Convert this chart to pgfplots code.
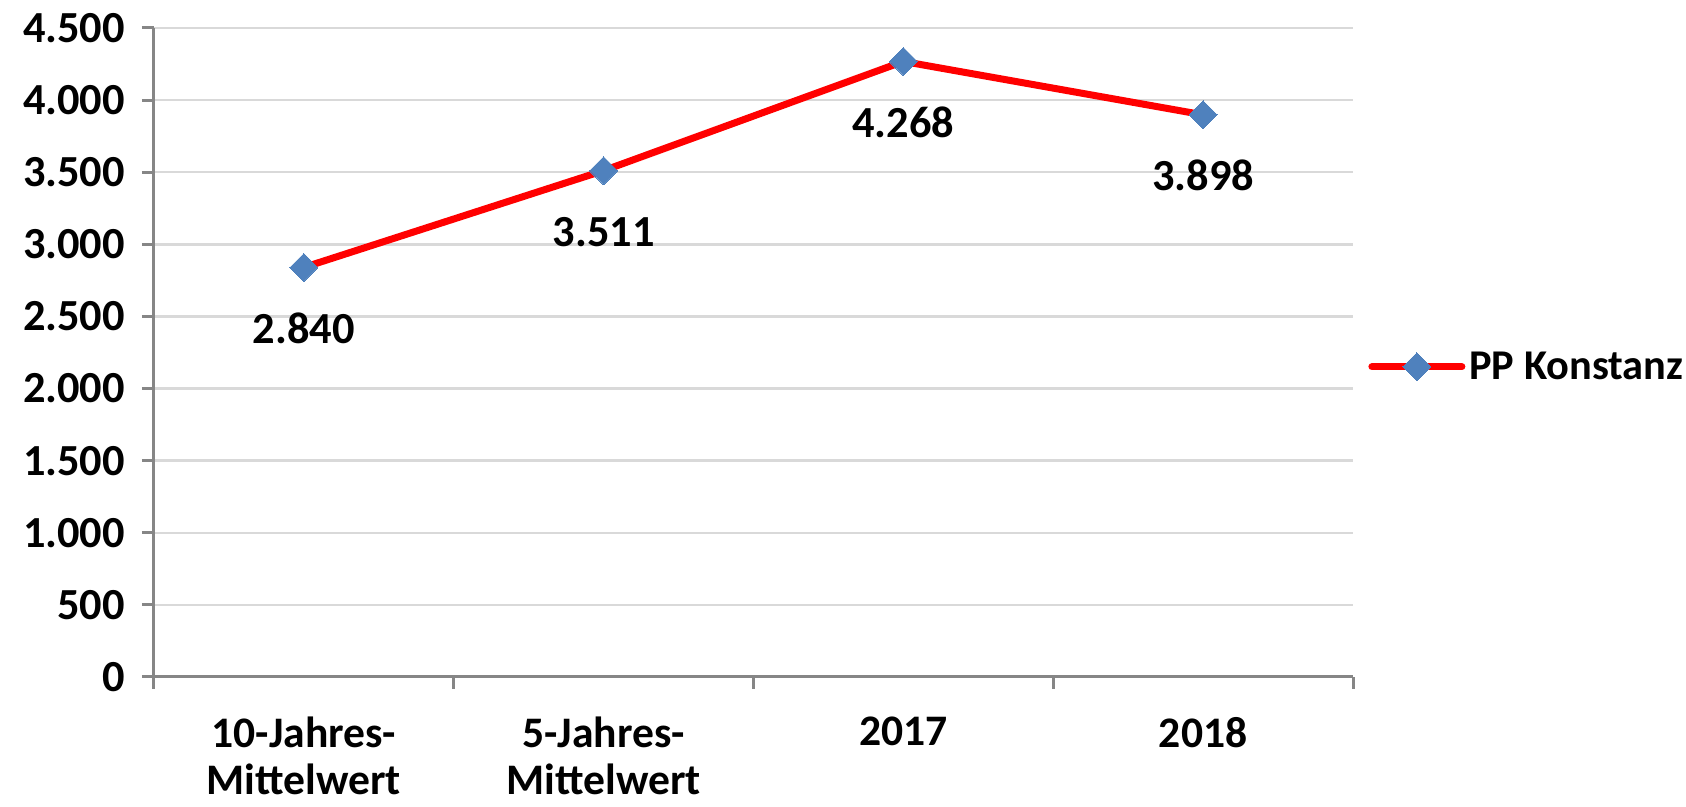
\documentclass[border=0pt]{standalone}
\usepackage{pgfplots}
\pgfplotsset{compat=1.18}
\usepackage{fontspec}
\setmainfont{Carlito}
\definecolor{axisgray}{HTML}{868686}
\definecolor{gridgray}{HTML}{D9D9D9}
\definecolor{markblue}{HTML}{4F81BD}
\newcommand{\lblfont}{\fontsize{22.2}{26}\selectfont\bfseries}
\newcommand{\xlblfont}{\fontsize{21.8}{23.5}\selectfont\bfseries}
\newcommand{\legfont}{\fontsize{21.2}{25}\selectfont\bfseries}
\begin{document}
\begin{tikzpicture}
\useasboundingbox (-77pt,-65pt) rectangle (766pt,338.5pt);
\begin{axis}[
  scale only axis,
  width=599.5pt, height=324.5pt,
  at={(0,0)}, anchor=south west,
  xmin=-0.5, xmax=3.5,
  ymin=0, ymax=4500,
  ytick={0,500,...,4500},
  xtick={-0.5,0.5,1.5,2.5,3.5},
  xticklabels={},
  extra x ticks={0,1,2,3},
  extra x tick labels={10-Jahres-\\Mittelwert,5-Jahres-\\Mittelwert,2017,2018},
  extra x tick style={major tick length=0pt, grid=none,
     xticklabel style={align=center, font=\xlblfont, anchor=north, yshift=-16.5pt}},
  axis x line*=bottom,
  axis y line*=left,
  axis line style={axisgray, line width=1.5pt},
  tick style={axisgray, line width=1.5pt},
  tick align=outside,
  major tick length=6pt,
  ymajorgrids,
  grid style={gridgray, line width=1.2pt},
  /pgf/number format/.cd, 1000 sep={.}, assume math mode=true,
  /pgfplots/.cd,
  yticklabel style={font=\lblfont, xshift=-5pt},
  legend style={draw=none, at={(1.0125,0.478)}, anchor=west, inner sep=0pt,
     font=\legfont, fill=none},
  legend cell align=left,
  legend image code/.code={\draw[#1,mark repeat=2,mark phase=2] plot coordinates {(0pt,0pt) (22.5pt,0pt) (45pt,0pt)};},
  clip=false,
]
\addplot[red, line width=3.5pt, line cap=round, line join=round,
  mark=square*, mark size=4.95pt,
  mark options={fill=markblue, draw=markblue, line width=0pt, rotate=45},
  nodes near coords,
  every node near coord/.append style={font=\lblfont, text=black, anchor=center, yshift=-30.5pt},
] coordinates {(0,2840) (1,3511) (2,4268) (3,3898)};
\addlegendentry{PP Konstanz}
\end{axis}
\end{tikzpicture}
\end{document}
